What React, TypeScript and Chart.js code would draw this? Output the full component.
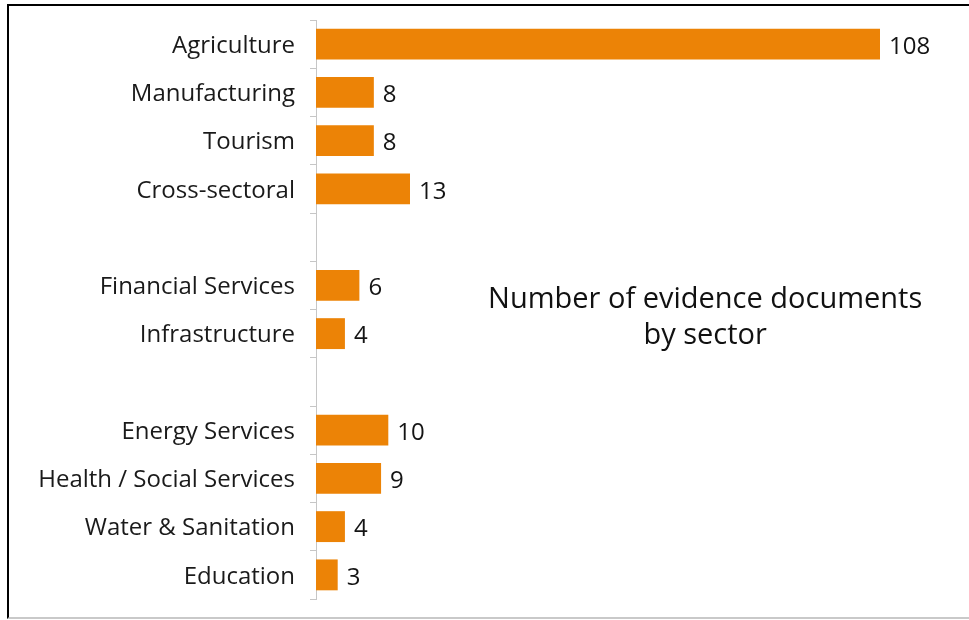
import React, { useEffect, useRef } from "react";
import { Chart, registerables } from "chart.js";

Chart.register(...registerables);

const categories: string[] = [
  "Agriculture",
  "Manufacturing",
  "Tourism",
  "Cross-sectoral",
  "",
  "Financial Services",
  "Infrastructure",
  "",
  "Energy Services",
  "Health / Social Services",
  "Water & Sanitation",
  "Education",
];

const documentCounts: (number | null)[] = [108, 8, 8, 13, null, 6, 4, null, 10, 9, 4, 3];

const titleLines: string[] = ["Number of evidence documents", "by sector"];

const FONT = "'Open Sans', 'Noto Sans', sans-serif";

export default function App() {
  const canvasRef = useRef<HTMLCanvasElement | null>(null);

  useEffect(() => {
    const canvas = canvasRef.current;
    if (!canvas) return;

    const valueLabels = {
      id: "valueLabels",
      afterDatasetsDraw(chart: any) {
        const ctx = chart.ctx;
        const area = chart.chartArea;
        const meta = chart.getDatasetMeta(0);
        ctx.save();
        ctx.font = `24px ${FONT}`;
        ctx.fillStyle = "#141414";
        ctx.textAlign = "left";
        ctx.textBaseline = "middle";
        meta.data.forEach((bar: any, i: number) => {
          const v = documentCounts[i];
          if (v === null || v === undefined) return;
          const x = Math.min(bar.x, area.right) + 9;
          ctx.fillText(String(v), x, bar.y + 3);
        });
        ctx.restore();
      },
    };

    const titleText = {
      id: "titleText",
      afterDraw(chart: any) {
        const ctx = chart.ctx;
        const area = chart.chartArea;
        const cx = area.left + (area.right - area.left) * 0.69;
        ctx.save();
        ctx.font = `29px ${FONT}`;
        ctx.fillStyle = "#111111";
        ctx.textAlign = "center";
        ctx.textBaseline = "alphabetic";
        titleLines.forEach((line, i) => {
          ctx.fillText(line, cx, 308 + i * 36);
        });
        ctx.restore();
      },
    };

    const chart = new Chart(canvas, {
      type: "bar",
      data: {
        labels: categories,
        datasets: [
          {
            data: documentCounts as any,
            backgroundColor: "#EC8306",
            borderWidth: 0,
            categoryPercentage: 1,
            barPercentage: 0.64,
          },
        ],
      },
      options: {
        indexAxis: "y",
        animation: false,
        responsive: false,
        maintainAspectRatio: false,
        devicePixelRatio: 1,
        layout: { padding: { left: 0, top: 20, right: 89, bottom: 21 } },
        plugins: {
          legend: { display: false },
          tooltip: { enabled: false },
          title: { display: false },
        },
        scales: {
          x: {
            display: false,
            min: 0,
            max: 78,
          },
          y: {
            offset: true,
            afterFit(scale: any) {
              scale.width = 316;
              scale.paddingTop = 0;
              scale.paddingBottom = 0;
            },
            border: { display: true, color: "#c6c6c6", width: 1 },
            grid: {
              display: true,
              drawOnChartArea: false,
              drawTicks: true,
              tickLength: 6,
              color: "#c6c6c6",
              offset: true,
            },
            ticks: {
              font: { family: FONT, size: 24 },
              color: "#1a1a1a",
              padding: 15,
              labelOffset: 2,
              autoSkip: false,
            },
          },
        },
      },
      plugins: [valueLabels, titleText],
    });

    return () => chart.destroy();
  }, []);

  return (
    <div style={{ position: "absolute", left: 0, top: 0, width: 969, height: 620, background: "#ffffff", overflow: "hidden" }}>
      <div
        style={{
          position: "absolute",
          left: 7,
          top: 4,
          width: 962,
          height: 611,
          borderTop: "2px solid #000",
          borderLeft: "2px solid #000",
          borderBottom: "2px solid #c9c9c9",
          boxSizing: "content-box",
        }}
      />
      <canvas ref={canvasRef} width={969} height={620} style={{ position: "absolute", left: 0, top: 0, width: 969, height: 620 }} />
    </div>
  );
}
